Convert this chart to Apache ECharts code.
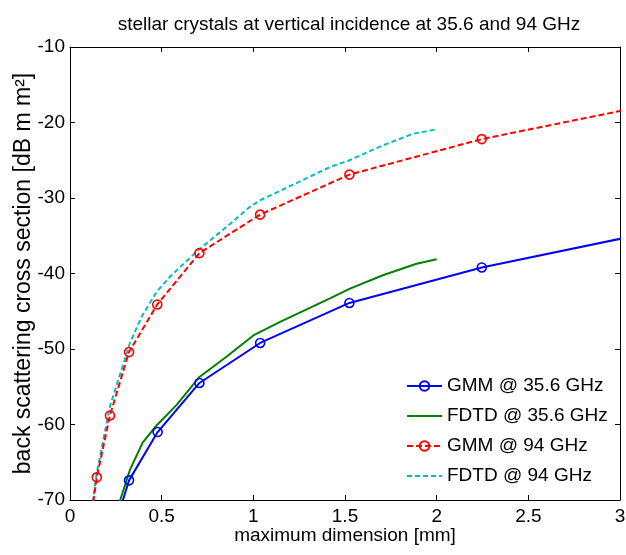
<!DOCTYPE html>
<html>
<head>
<meta charset="utf-8">
<script src="https://cdn.jsdelivr.net/npm/echarts@6/dist/echarts.min.js"></script>
<style>
  html, body { margin: 0; padding: 0; background: #fff; }
  #chart { width: 626px; height: 555px; }
</style>
</head>
<body>
<div id="chart"></div>
<script>
// maximum dimension [mm] and back scattering cross section [dB mm^2]
const gmm35X = [0.218, 0.322, 0.478, 0.706, 1.037, 1.524, 2.246, 3.3]
const gmm35Y = [-75.5, -67.4, -61.0, -54.5, -49.2, -43.9, -39.2, -33.9]

const fdtd35X = [0.25, 0.327, 0.396, 0.473, 0.582, 0.706, 0.855, 1.0, 1.146, 1.418, 1.527, 1.71, 1.89, 2.0]
const fdtd35Y = [-71.8, -66.0, -62.4, -60.1, -57.4, -53.7, -51.0, -48.2, -46.4, -43.3, -42.0, -40.2, -38.7, -38.1]

const gmm94X = [0.1, 0.146, 0.218, 0.322, 0.476, 0.706, 1.037, 1.524, 2.246, 3.3]
const gmm94Y = [-75.0, -67.0, -58.8, -50.4, -44.1, -37.3, -32.2, -26.9, -22.2, -17.0]

const fdtd94X = [0.1, 0.146, 0.218, 0.327, 0.391, 0.473, 0.546, 0.70, 0.855, 0.98, 1.037, 1.255, 1.418, 1.524, 1.71, 1.87, 2.0]
const fdtd94Y = [-74.5, -66.4, -57.6, -49.2, -45.7, -42.4, -40.4, -36.9, -33.8, -31.2, -30.3, -27.8, -25.9, -25.0, -23.0, -21.5, -20.9]

const xTicks = [0, 0.5, 1, 1.5, 2, 2.5, 3]
const yTicks = [-70, -60, -50, -40, -30, -20, -10]

const pairs = (xs, ys) => xs.map((x, i) => [x, ys[i]])

const font = 'Liberation Sans, Arial, sans-serif'

var myChart = echarts.init(document.getElementById('chart'), null, { renderer: 'canvas' })

const hiddenAxis = {
  axisLine: { show: true, onZero: false, lineStyle: { color: '#000', width: 1 } },
  axisTick: { show: true, inside: true, length: 5, lineStyle: { color: '#000' } },
  axisLabel: { show: false },
  splitLine: { show: false }
}

// no marker in the legend for the FDTD lines
const noMarker = { color: 'rgba(0,0,0,0)', borderWidth: 0 }

myChart.setOption({
  animation: false,
  backgroundColor: '#fff',
  title: {
    text: 'stellar crystals at vertical incidence at 35.6 and 94 GHz',
    left: 344,
    textAlign: 'center',
    top: 10,
    textStyle: { fontFamily: font, fontSize: 19, fontWeight: 'normal', color: '#000' }
  },
  legend: {
    orient: 'vertical',
    left: 401,
    top: 371,
    itemWidth: 35,
    itemHeight: 12,
    itemGap: 10,
    textStyle: { fontFamily: font, fontSize: 19, color: '#000', lineHeight: 20 },
    data: [
      { name: 'GMM @ 35.6 GHz' },
      { name: 'FDTD @ 35.6 GHz', itemStyle: noMarker },
      { name: 'GMM @ 94 GHz' },
      { name: 'FDTD @ 94 GHz', itemStyle: noMarker }
    ]
  },
  grid: {
    left: 70,
    right: 6,
    top: 47,
    bottom: 55,
    outerBoundsMode: 'none'
  },
  xAxis: [
    {
      type: 'value',
      min: 0,
      max: 3,
      interval: 0.5,
      name: 'maximum dimension [mm]',
      nameLocation: 'middle',
      nameGap: 26,
      nameMoveOverlap: false,
      nameTextStyle: { fontFamily: font, fontSize: 19, color: '#000' },
      axisLine: { show: true, onZero: false, lineStyle: { color: '#000', width: 1 } },
      axisTick: { show: true, inside: true, length: 5, lineStyle: { color: '#000' } },
      axisLabel: {
        margin: 7,
        fontFamily: font,
        fontSize: 19,
        color: '#000',
        customValues: xTicks,
        formatter: v => String(v)
      },
      splitLine: { show: false }
    },
    Object.assign({ type: 'value', position: 'top', min: 0, max: 3, interval: 0.5 }, hiddenAxis)
  ],
  yAxis: [
    {
      type: 'value',
      min: -70,
      max: -10,
      interval: 10,
      name: 'back scattering cross section [dB m m²]',
      nameLocation: 'middle',
      nameGap: 35,
      nameMoveOverlap: false,
      nameTextStyle: { fontFamily: font, fontSize: 23, color: '#000' },
      axisLine: { show: true, onZero: false, lineStyle: { color: '#000', width: 1 } },
      axisTick: { show: true, inside: true, length: 5, lineStyle: { color: '#000' } },
      axisLabel: {
        margin: 5,
        fontFamily: font,
        fontSize: 19,
        color: '#000',
        customValues: yTicks
      },
      splitLine: { show: false }
    },
    Object.assign({ type: 'value', position: 'right', min: -70, max: -10, interval: 10 }, hiddenAxis)
  ],
  series: [
    {
      name: 'GMM @ 35.6 GHz',
      type: 'line',
      data: pairs(gmm35X, gmm35Y),
      clip: true,
      symbol: 'circle',
      symbolSize: 9,
      itemStyle: { color: 'rgba(255,255,255,0)', borderColor: '#0000ff', borderWidth: 1.6 },
      lineStyle: { color: '#0000ff', width: 2 },
      z: 4
    },
    {
      name: 'FDTD @ 35.6 GHz',
      type: 'line',
      data: pairs(fdtd35X, fdtd35Y),
      clip: true,
      symbol: 'none',
      itemStyle: { color: '#008000' },
      lineStyle: { color: '#008000', width: 2 },
      z: 3
    },
    {
      name: 'GMM @ 94 GHz',
      type: 'line',
      data: pairs(gmm94X, gmm94Y),
      clip: true,
      symbol: 'circle',
      symbolSize: 9,
      itemStyle: { color: 'rgba(255,255,255,0)', borderColor: '#ff0000', borderWidth: 1.6 },
      lineStyle: { color: '#ff0000', width: 2, type: [6, 3] },
      z: 4
    },
    {
      name: 'FDTD @ 94 GHz',
      type: 'line',
      data: pairs(fdtd94X, fdtd94Y),
      clip: true,
      symbol: 'none',
      itemStyle: { color: '#00bfbf' },
      lineStyle: { color: '#00bfbf', width: 2, type: [5, 3] },
      z: 3
    }
  ]
})
</script>
</body>
</html>
